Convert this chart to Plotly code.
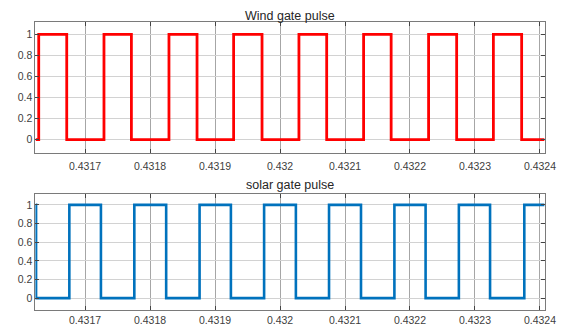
import plotly.graph_objects as go

# Wind gate pulse: switching instants (s) and levels
wind_t = [0.4316240, 0.4316287, 0.4316718, 0.4317291, 0.4317713, 0.4318291, 0.4318723,
          0.4319286, 0.4319723, 0.4320291, 0.4320718, 0.4321286, 0.4321710, 0.4322286,
          0.4322718, 0.4323283, 0.4323718, 0.4324071]
wind_v = [0, 1, 0, 1, 0, 1, 0, 1, 0, 1, 0, 1, 0, 1, 0, 1, 0, 0]

# Solar gate pulse
solar_t = [0.4316240, 0.4316246, 0.4316758, 0.4317244, 0.4317758, 0.4318248, 0.4318762,
           0.4319244, 0.4319755, 0.4320244, 0.4320754, 0.4321246, 0.4321760, 0.4322240,
           0.4322752, 0.4323232, 0.4323759, 0.4324071]
solar_v = [1, 0, 1, 0, 1, 0, 1, 0, 1, 0, 1, 0, 1, 0, 1, 0, 1, 1]

x_ticks = [0.4317, 0.4318, 0.4319, 0.4320, 0.4321, 0.4322, 0.4323, 0.4324]
x_tick_labels = ["0.4317", "0.4318", "0.4319", "0.432", "0.4321", "0.4322", "0.4323", "0.4324"]
y_ticks = [0, 0.2, 0.4, 0.6, 0.8, 1]
y_tick_labels = ["0", "0.2", "0.4", "0.6", "0.8", "1"]
titles = ["Wind gate pulse", "solar gate pulse"]

W, H = 576, 326
OFF = 8  # page body margin offset


def px_x(px):
    return (px - OFF) / W


def px_y(py):
    return 1 - (py - OFF) / H


fig = go.Figure()
fig.add_trace(go.Scatter(x=wind_t, y=wind_v, mode="lines", line_shape="hv",
                         line=dict(color="#ff0000", width=2.8), xaxis="x", yaxis="y"))
fig.add_trace(go.Scatter(x=solar_t, y=solar_v, mode="lines", line_shape="hv",
                         line=dict(color="#0072bd", width=2.6), xaxis="x2", yaxis="y2"))

xd = [px_x(36), px_x(556)]
doms = [[px_y(153), px_y(22)], [px_y(310), px_y(194)]]
xr = [0.4316236, 0.4324071]
yr = [-0.127, 1.117]

tfont = dict(family="Liberation Sans, Arial", size=10.5, color="#404040")
common_x = dict(range=xr, tickvals=x_ticks, ticktext=x_tick_labels, showgrid=True,
                gridcolor="#a6a6a6", gridwidth=1, ticks="inside", ticklen=4,
                tickcolor="#444", showline=True, linecolor="#7a7a7a", linewidth=1,
                mirror="ticks", zeroline=False, domain=xd,
                tickfont=tfont)
common_y = dict(range=yr, tickvals=y_ticks, ticktext=y_tick_labels, showgrid=True,
                gridcolor="#d2d2d2", gridwidth=1, ticks="inside", ticklen=4,
                tickcolor="#444", showline=True, linecolor="#7a7a7a", linewidth=1,
                mirror="ticks", zeroline=False, tickfont=tfont)

fig.update_layout(
    width=W, height=H, margin=dict(l=0, r=0, t=0, b=0),
    paper_bgcolor="white", plot_bgcolor="white", showlegend=False,
    xaxis=dict(common_x, anchor="y", ticklabelstandoff=3),
    yaxis=dict(common_y, domain=doms[0], anchor="x"),
    xaxis2=dict(common_x, anchor="y2", ticklabelstandoff=0),
    yaxis2=dict(common_y, domain=doms[1], anchor="x2"),
)
tt_font = dict(family="Liberation Sans, Arial", size=12.5, color="#262626")
# top title: anchored to the top edge so it is not clipped
fig.add_annotation(text=titles[0], x=(xd[0] + xd[1]) / 2, y=1,
                   xref="paper", yref="paper", showarrow=False, font=tt_font,
                   xanchor="center", yanchor="top", borderpad=0)
fig.add_annotation(text=titles[1], x=(xd[0] + xd[1]) / 2, y=px_y(185),
                   xref="paper", yref="paper", showarrow=False, font=tt_font,
                   xanchor="center", yanchor="middle")

fig.write_html("out.html")
